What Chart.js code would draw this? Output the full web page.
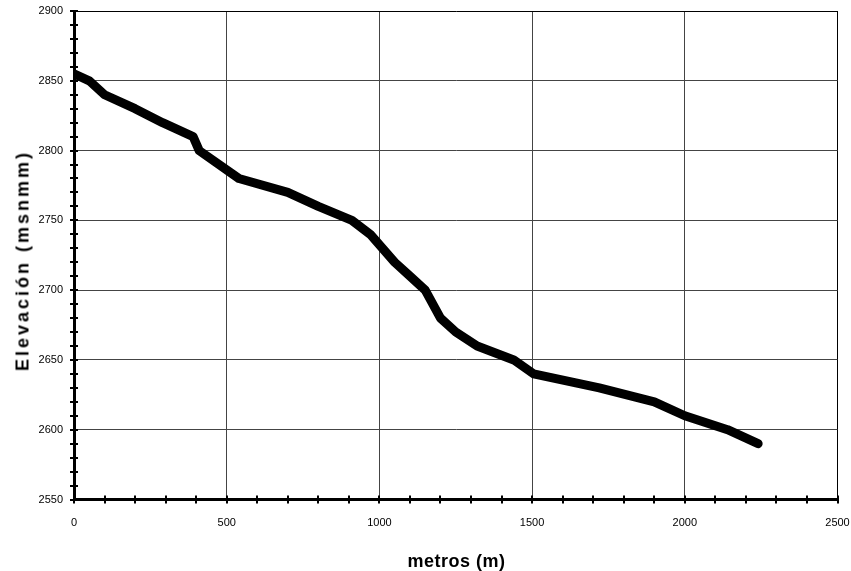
<!DOCTYPE html>
<html>
<head>
<meta charset="utf-8">
<script src="https://cdn.jsdelivr.net/npm/chart.js@4"></script>
<style>
  html, body { margin: 0; padding: 0; background: #fff; }
  #wrap { position: relative; width: 851px; height: 571px; overflow: hidden; }
  .axis-title {
    position: absolute; font: bold 18px "Liberation Sans", Arial, sans-serif;
    line-height: 18px; color: #000; white-space: nowrap; text-align: center;
  }
  #x-title { left: 256px; width: 400px; top: 552px; letter-spacing: 0.5px; padding-left: 0.5px; }
  #y-title { left: -179px; width: 400px; top: 253px; letter-spacing: 3px; padding-left: 3px; transform: rotate(-90deg); }
</style>
</head>
<body>
<div id="wrap">
  <canvas id="profile" width="851" height="571"></canvas>
  <div class="axis-title" id="x-title">metros (m)</div>
  <div class="axis-title" id="y-title">Elevación (msnmm)</div>
</div>
<script>
/* Perfil longitudinal – elevación vs distancia */

const distances = [0, 50, 100, 200, 290, 390, 410, 540, 700, 800, 910, 970, 1050, 1100, 1150,
                   1200, 1250, 1320, 1440, 1505, 1720, 1900, 2000, 2140, 2240];
const elevations = [2855, 2850, 2840, 2830, 2820, 2810, 2800, 2780, 2770, 2760, 2750, 2740, 2720, 2710, 2700,
                    2680, 2670, 2660, 2650, 2640, 2630, 2620, 2610, 2600, 2590];

const xMin = 0, xMax = 2500, xMajor = 500, xMinor = 100;
const yMin = 2550, yMax = 2900, yMajor = 50, yMinor = 10;

Chart.defaults.font.family = '"Liberation Sans", Arial, sans-serif';
Chart.defaults.font.size = 11;
Chart.defaults.color = '#000';

// small tick marks that cross the axis line (Excel style)
const crossTicks = {
  id: 'crossTicks',
  afterDraw(chart) {
    const { ctx, chartArea, scales } = chart;
    ctx.save();
    ctx.strokeStyle = '#000';
    ctx.lineWidth = 2;
    ctx.beginPath();
    for (let v = yMin; v <= yMax; v += yMinor) {
      const py = Math.round(scales.y.getPixelForValue(v));
      ctx.moveTo(chartArea.left - 4, py);
      ctx.lineTo(chartArea.left + 4, py);
    }
    for (let v = xMin; v <= xMax; v += xMinor) {
      const px = Math.round(scales.x.getPixelForValue(v));
      ctx.moveTo(px, chartArea.bottom - 4);
      ctx.lineTo(px, chartArea.bottom + 4);
    }
    ctx.stroke();
    ctx.restore();
  }
};

const gridColor = (major, max) => c => {
  const v = c.tick.value;
  if (v === max) return '#000';
  return v % major === 0 ? '#444' : 'rgba(0,0,0,0)';
};

// drop the label overhang padding so the plot box sits where the reference has it
const noOverhang = s => {
  s.paddingTop = 0; s.paddingBottom = 0; s.paddingLeft = 0; s.paddingRight = 0;
};

new Chart(document.getElementById('profile'), {
  type: 'line',
  data: {
    datasets: [{
      data: distances.map((d, i) => ({ x: d, y: elevations[i] })),
      borderColor: '#000',
      borderWidth: 9,
      borderCapStyle: 'round',
      borderJoinStyle: 'round',
      pointRadius: 0,
      tension: 0,
      clip: 0
    }]
  },
  options: {
    responsive: false,
    animation: false,
    layout: { padding: { left: 0, top: 11, right: 13.5, bottom: 0 } },
    plugins: { legend: { display: false }, tooltip: { enabled: false } },
    scales: {
      x: {
        type: 'linear', min: xMin, max: xMax,
        afterFit: s => { s.height = 71.5; noOverhang(s); },
        grid: { drawTicks: false, lineWidth: 1, color: gridColor(xMajor, xMax) },
        border: { color: '#000', width: 3 },
        ticks: {
          stepSize: xMinor, autoSkip: false, maxRotation: 0, padding: 17,
          callback: v => (v % xMajor === 0 ? String(v) : '')
        }
      },
      y: {
        min: yMin, max: yMax,
        afterFit: s => { s.width = 74; noOverhang(s); },
        grid: { drawTicks: false, lineWidth: 1, color: gridColor(yMajor, yMax) },
        border: { color: '#000', width: 3 },
        ticks: {
          stepSize: yMinor, autoSkip: false, padding: 11,
          callback: v => (v % yMajor === 0 ? String(v) : '')
        }
      }
    }
  },
  plugins: [crossTicks]
});
</script>
</body>
</html>
